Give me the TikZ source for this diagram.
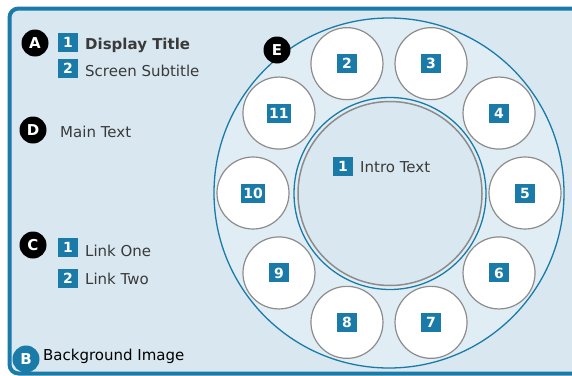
\documentclass[tikz,border=0pt]{standalone}
\usepackage{fontspec}
\setmainfont{DejaVu Sans}
\definecolor{brdblue}{HTML}{1A7BA8}
\definecolor{bgblue}{HTML}{D8E7F0}
\definecolor{ringbg}{HTML}{E1EDF4}
\definecolor{txtgray}{HTML}{3A3A3A}
\definecolor{slotgray}{HTML}{8C8C8C}
\begin{document}
\begin{tikzpicture}[x=1pt,y=-1pt,
  lbl/.style={anchor=base west,text=txtgray,inner sep=0pt,font=\fontsize{15}{15}\selectfont},
  numbox/.style={fill=brdblue,text=white,inner sep=2pt,minimum width=20pt,minimum height=19pt,font=\bfseries\fontsize{14}{14}\selectfont},
  letterc/.style={circle,fill=black,text=white,inner sep=0pt,minimum size=27pt,font=\bfseries\fontsize{15}{15}\selectfont},
  slot/.style={circle,draw=slotgray,line width=1.2pt,fill=white,minimum size=72pt,inner sep=0pt}]
\useasboundingbox (0,0) rectangle (572,375);
\clip (0,0) rectangle (572,375);
\fill[white] (0,0) rectangle (572,375);
% panel
\draw[brdblue,line width=4pt,fill=bgblue,rounded corners=9pt] (600,8.5) -- (9.5,8.5) -- (9.5,373.5) -- (600,373.5);
% outer ring
\node[circle,draw=brdblue,line width=1.3pt,fill=ringbg,minimum size=350pt,inner sep=0pt] (ring) at (389,193) {};
\node[circle,draw=brdblue,line width=1.3pt,fill=ringbg,minimum size=192pt,inner sep=0pt] (introring) at (390,193.5) {};
\node[circle,draw=slotgray,line width=1.5pt,fill=bgblue,minimum size=184pt,inner sep=0pt] (intro) at (390,193.5) {};
\node[numbox] (ib) at (343,166) {1};
\node[lbl] (it) at (360,172) {Intro Text};
% slots
\foreach \n [count=\k from 0] in {2,...,11}{
  \path (389,193) ++(252+36*\k:136) node[slot] (s\n) {};
  \node[numbox] (b\n) at (s\n) {\n};
}
% E marker
\node[letterc] (E) at (277,50) {E};
% left legend
\node[letterc] (A) at (35,43) {A};
\node[numbox] (a1) at (68,42.5) {1};
\node[lbl,font=\bfseries\fontsize{15}{15}\selectfont] (a1t) at (85,49) {Display Title};
\node[numbox] (a2) at (68,68.5) {2};
\node[lbl] (a2t) at (85,76) {Screen Subtitle};
\node[letterc] (D) at (33,130) {D};
\node[lbl] (dt) at (60,137) {Main Text};
\node[letterc] (C) at (33,245) {C};
\node[numbox] (c1) at (68,247) {1};
\node[lbl] (c1t) at (85,256) {Link One};
\node[numbox] (c2) at (68,278) {2};
\node[lbl] (c2t) at (85,284) {Link Two};
\node[letterc,fill=brdblue] (B) at (26,359) {B};
\node[lbl,text=black] (bt) at (43,360) {Background Image};
\end{tikzpicture}
\end{document}
